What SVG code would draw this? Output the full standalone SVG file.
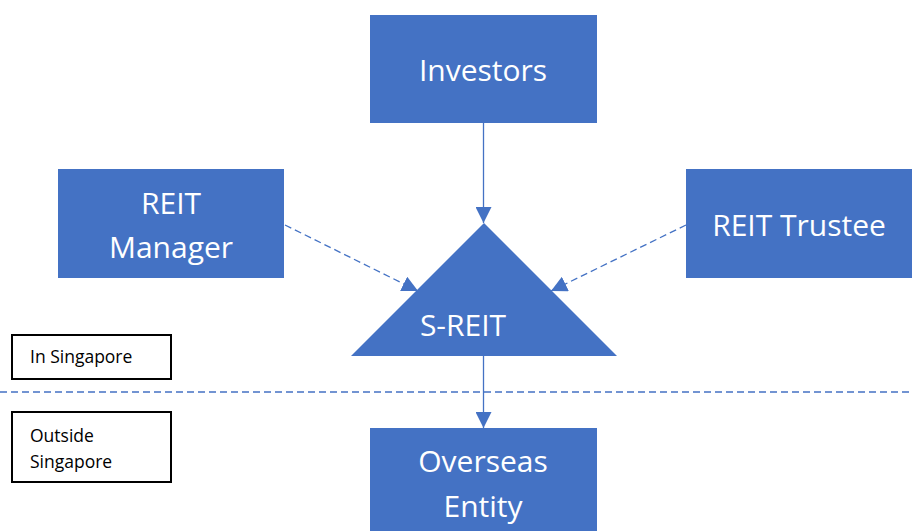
<svg xmlns="http://www.w3.org/2000/svg" width="912" height="531" viewBox="0 0 912 531">
  <style>
    .box { fill: #4472C4; }
    .lbl { fill: #FFFFFF; font-family: "Open Sans", "Liberation Sans", sans-serif; font-size: 30px; text-anchor: middle; }
    .note { fill: none; stroke: #000000; stroke-width: 2; }
    .notetxt { fill: #000000; font-family: "Open Sans", "Liberation Sans", sans-serif; font-size: 17.5px; }
    .link { stroke: #4472C4; stroke-width: 1.3; fill: none; }
    .dash { stroke-dasharray: 7 4; }
  </style>
  <defs>
    <marker id="arrowL" viewBox="0 0 10 10" refX="10" refY="5" markerWidth="16" markerHeight="16" markerUnits="userSpaceOnUse" orient="auto">
      <path d="M0,0 L10,5 L0,10 Z" fill="#4472C4"/>
    </marker>
  </defs>

  <rect width="912" height="531" fill="#FFFFFF"/>

  <!-- boundary between onshore and offshore -->
  <line x1="0" y1="392" x2="912" y2="392" class="link dash"/>

  <g id="connectors">
    <line x1="483.5" y1="123" x2="483.5" y2="223" class="link" marker-end="url(#arrowL)"/>
    <line x1="285" y1="225" x2="418" y2="291" class="link dash" marker-end="url(#arrowL)"/>
    <line x1="686" y1="225" x2="551" y2="291" class="link dash" marker-end="url(#arrowL)"/>
    <line x1="483.5" y1="356" x2="483.5" y2="428" class="link" marker-end="url(#arrowL)"/>
  </g>

  <g id="investors">
    <rect x="370" y="15" width="227" height="108" class="box"/>
    <text x="483" y="81" class="lbl">Investors</text>
  </g>

  <g id="reit-manager">
    <rect x="58" y="169" width="226" height="109" class="box"/>
    <text x="171" y="214" class="lbl">REIT</text>
    <text x="171" y="258" class="lbl">Manager</text>
  </g>

  <g id="reit-trustee">
    <rect x="686" y="169" width="226" height="109" class="box"/>
    <text x="799" y="236" class="lbl">REIT Trustee</text>
  </g>

  <g id="s-reit">
    <polygon points="484,223 617,356 351,356" class="box"/>
    <text x="463" y="336" class="lbl">S-REIT</text>
  </g>

  <g id="overseas-entity">
    <rect x="370" y="428" width="227" height="110" class="box"/>
    <text x="483" y="472" class="lbl">Overseas</text>
    <text x="483" y="517" class="lbl">Entity</text>
  </g>

  <g id="in-singapore">
    <rect x="12" y="335" width="159" height="44" class="note"/>
    <text x="30" y="363" class="notetxt">In Singapore</text>
  </g>

  <g id="outside-singapore">
    <rect x="12" y="412" width="159" height="70" class="note"/>
    <text x="30" y="442" class="notetxt">Outside</text>
    <text x="30" y="468" class="notetxt">Singapore</text>
  </g>
</svg>
